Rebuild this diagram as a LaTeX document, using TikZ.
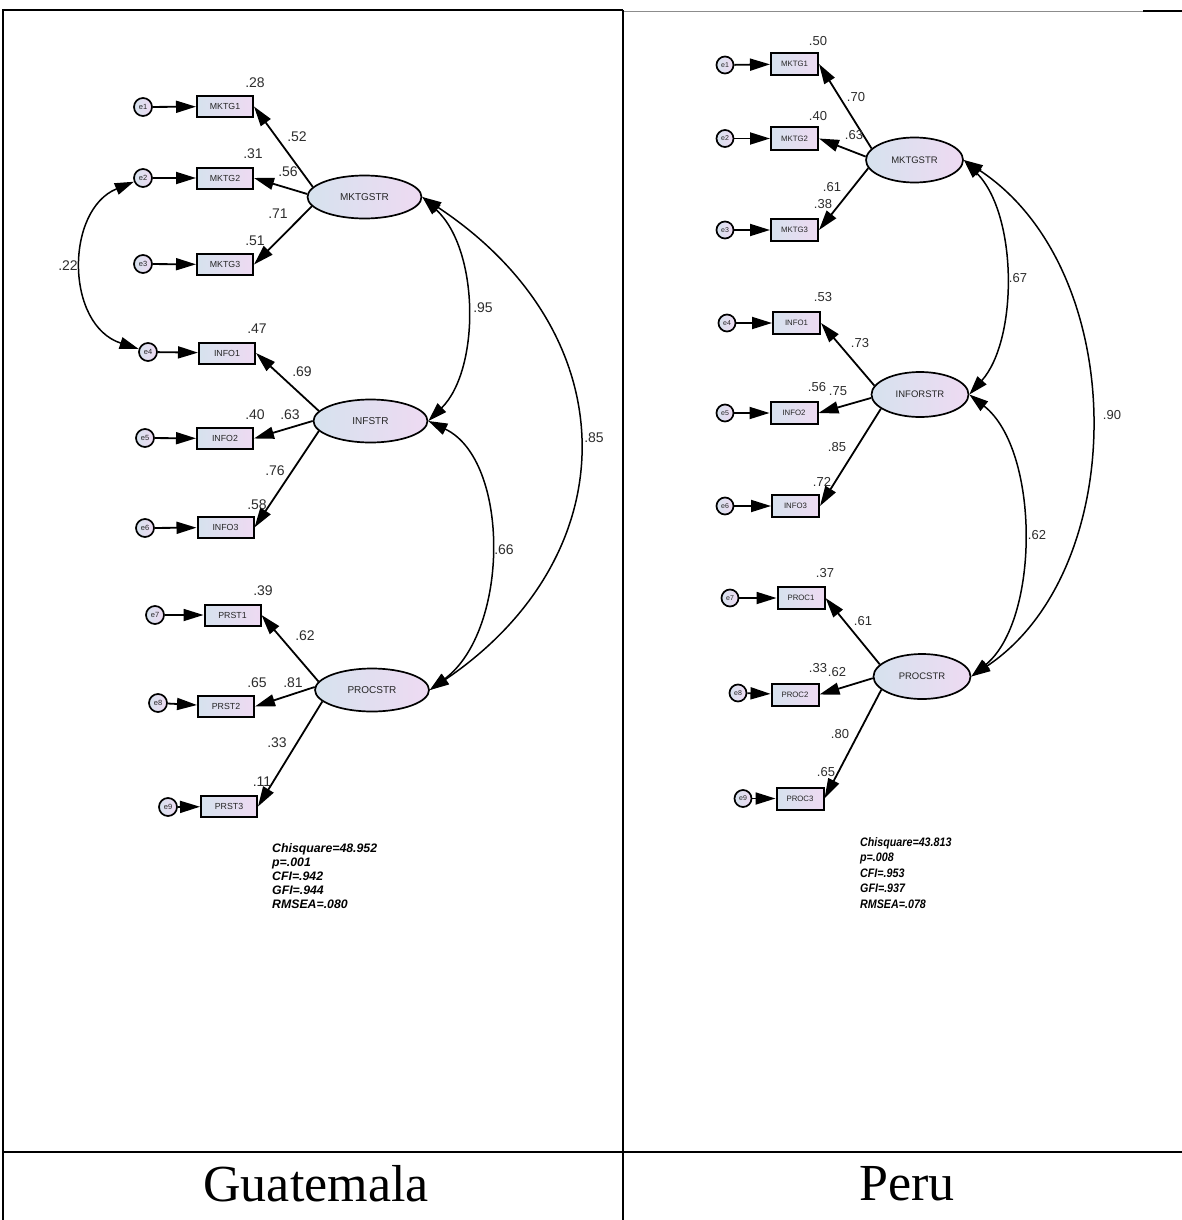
\documentclass[tikz,border=0pt]{standalone}
\usepackage{fontspec}
\usetikzlibrary{arrows.meta,shapes.geometric}
\newfontfamily\lsans{Liberation Sans}
\newfontfamily\lserif{Liberation Serif}
\definecolor{nodeL}{RGB}{214,226,238}
\definecolor{nodeR}{RGB}{238,218,242}
\definecolor{lblc}{RGB}{45,45,45}
\begin{document}
\begin{tikzpicture}[x=1pt,y=-1pt,
  obsL/.style={draw, rectangle, line width=2pt, inner sep=0, minimum width=56, minimum height=21, left color=nodeL, right color=nodeR, text=black!85, font=\lsans\fontsize{8.8}{8.8}\selectfont},
  obsR/.style={obsL, minimum width=47, minimum height=22, font=\lsans\fontsize{7.8}{7.8}\selectfont},
  latL/.style={draw, ellipse, line width=1.7pt, inner sep=0, minimum width=114, minimum height=43, left color=nodeL, right color=nodeR, text=black!85, font=\lsans\fontsize{10}{10}\selectfont},
  latR/.style={latL, minimum width=97, minimum height=45, font=\lsans\fontsize{9.5}{9.5}\selectfont},
  errL/.style={draw, circle, line width=1.7pt, inner sep=0, minimum size=18, left color=nodeL, right color=nodeR, text=black!85, font=\lsans\fontsize{7.5}{7.5}\selectfont},
  errR/.style={errL, minimum size=17, font=\lsans\fontsize{7}{7}\selectfont},
  lbl/.style={inner sep=0, text=lblc, font=\lsans\fontsize{14}{14}\selectfont},
  lblR/.style={inner sep=0, text=lblc, font=\lsans\fontsize{13}{13}\selectfont},
  arr/.style={-{Triangle[length=20pt,width=12pt]}, line width=1.8pt},
  biarr/.style={{Triangle[length=19pt,width=12pt]}-{Triangle[length=19pt,width=12pt]}, line width=1.5pt},
  stat/.style={inner sep=0, anchor=north west, align=left, text=black}
]
\useasboundingbox (0,0) rectangle (1182,1220);
\fill[white] (0,0) rectangle (1182,1220);
% table
\draw[line width=1.6pt] (3,1220) -- (3,10) -- (623,10);
\draw[line width=0.8pt, black!45] (623,11) -- (1143,11);
\draw[line width=1.6pt] (1143,11) -- (1182,11);
\draw[line width=1.4pt] (623,10) -- (623,1220);
\draw[line width=1.4pt] (3,1152) -- (1182,1152);
\node[inner sep=0, font=\lserif\fontsize{52}{52}\selectfont] (guat) at (316,1184) {Guatemala};
\node[inner sep=0, font=\lserif\fontsize{52}{52}\selectfont] (peru) at (907,1184) {Peru};

% ---------------- Left: Guatemala ----------------
\node[latL] (MKL) at (364.5,197) {MKTGSTR};
\node[latL] (INL) at (370.5,421) {INFSTR};
\node[latL] (PRL) at (372,690) {PROCSTR};

\node[obsL] (lm1) at (225,106.5) {MKTG1};
\node[obsL] (lm2) at (225,178) {MKTG2};
\node[obsL] (lm3) at (225,264.5) {MKTG3};
\node[obsL] (li1) at (227,353) {INFO1};
\node[obsL] (li2) at (225,438.5) {INFO2};
\node[obsL] (li3) at (225.5,527.5) {INFO3};
\node[obsL] (lp1) at (232.5,615) {PRST1};
\node[obsL] (lp2) at (226,706.5) {PRST2};
\node[obsL] (lp3) at (229,806.5) {PRST3};

\node[errL] (le1) at (143,107) {e1};
\node[errL] (le2) at (143,178) {e2};
\node[errL] (le3) at (143,264) {e3};
\node[errL] (le4) at (148,352) {e4};
\node[errL] (le5) at (145,438) {e5};
\node[errL] (le6) at (145,528) {e6};
\node[errL] (le7) at (155,615) {e7};
\node[errL] (le8) at (158,703) {e8};
\node[errL] (le9) at (168,807) {e9};

\foreach \a/\b in {le1/lm1,le2/lm2,le3/lm3,le4/li1,le5/li2,le6/li3,le7/lp1,le8/lp2,le9/lp3}
  \draw[arr] (\a) -- (\b);

\draw[arr] (MKL.169) -- (lm1.east);
\draw[arr] (MKL.177) -- (lm2.east);
\draw[arr] (MKL.190) -- (lm3.east);
\draw[arr] (INL.169) -- (li1.east);
\draw[arr] (INL.180) -- (li2.east);
\draw[arr] (INL.191) -- (li3.east);
\draw[arr] (PRL.171) -- (lp1.east);
\draw[arr] (PRL.177) -- (lp2.east);
\draw[arr] (PRL.193) -- (lp3.east);

\draw[biarr] (le2) .. controls (65,210) and (65,325) .. (le4);
\draw[biarr] (MKL.east) .. controls (480,250) and (480,370) .. (INL.east);
\draw[biarr] (MKL.east) .. controls (629,334) and (629,555) .. (PRL.east);
\draw[biarr] (INL.east) .. controls (510,460) and (510,630) .. (PRL.east);

\node[lbl] (l28) at (255,83) {.28};
\node[lbl] (l52) at (297,137) {.52};
\node[lbl] (l31) at (253,154) {.31};
\node[lbl] (l56) at (288,172) {.56};
\node[lbl] (l71) at (278,214) {.71};
\node[lbl] (l51) at (255,241) {.51};
\node[lbl] (l47) at (257,329) {.47};
\node[lbl] (l69) at (302,372) {.69};
\node[lbl] (l40) at (255,415) {.40};
\node[lbl] (l63) at (290,415) {.63};
\node[lbl] (l76) at (275,471) {.76};
\node[lbl] (l58) at (257,505) {.58};
\node[lbl] (l39) at (263,591) {.39};
\node[lbl] (l62) at (305,636) {.62};
\node[lbl] (l65) at (257,683) {.65};
\node[lbl] (l81) at (293,683) {.81};
\node[lbl] (l33) at (277,743) {.33};
\node[lbl] (l11) at (262,782) {.11};
\node[lbl] (l22) at (68,266) {.22};
\node[lbl] (l95) at (483,308) {.95};
\node[lbl] (l85) at (594,438) {.85};
\node[lbl] (l66) at (504,550) {.66};

\node[stat, font=\lsans\bfseries\itshape\fontsize{12.3}{14.2}\selectfont] (lstat) at (272,843)
  {Chisquare=48.952\\p=.001\\CFI=.942\\GFI=.944\\RMSEA=.080};

% ---------------- Right: Peru ----------------
\node[latR] (MKR) at (914.5,160) {MKTGSTR};
\node[latR] (INR) at (920,394.5) {INFORSTR};
\node[latR] (PRR) at (922,676.5) {PROCSTR};

\node[obsR] (rm1) at (794.5,64) {MKTG1};
\node[obsR] (rm2) at (794.5,138.5) {MKTG2};
\node[obsR] (rm3) at (794.5,230) {MKTG3};
\node[obsR] (ri1) at (796.5,323) {INFO1};
\node[obsR] (ri2) at (794,413) {INFO2};
\node[obsR] (ri3) at (795.5,506) {INFO3};
\node[obsR] (rp1) at (801,598) {PROC1};
\node[obsR] (rp2) at (795,694.5) {PROC2};
\node[obsR] (rp3) at (800,798.5) {PROC3};

\node[errR] (re1) at (725,65) {e1};
\node[errR] (re2) at (725,138.5) {e2};
\node[errR] (re3) at (725,230) {e3};
\node[errR] (re4) at (727,323) {e4};
\node[errR] (re5) at (725,413) {e5};
\node[errR] (re6) at (725,506) {e6};
\node[errR] (re7) at (730,598) {e7};
\node[errR] (re8) at (738,693) {e8};
\node[errR] (re9) at (743,798.5) {e9};

\foreach \a/\b in {re1/rm1,re2/rm2,re3/rm3,re4/ri1,re5/ri2,re6/ri3,re7/rp1,re8/rp2,re9/rp3}
  \draw[arr] (\a) -- (\b);

\draw[arr] (MKR.165) -- (rm1.east);
\draw[arr] (MKR.176) -- (rm2.east);
\draw[arr] (MKR.190) -- (rm3.east);
\draw[arr] (INR.169) -- (ri1.east);
\draw[arr] (INR.184) -- (ri2.east);
\draw[arr] (INR.200) -- (ri3.east);
\draw[arr] (PRR.164) -- (rp1.east);
\draw[arr] (PRR.182) -- (rp2.east);
\draw[arr] (PRR.198) -- (rp3.east);

\draw[biarr] (MKR.east) .. controls (1018,215) and (1018,340) .. (INR.east);
\draw[biarr] (MKR.east) .. controls (1131,270) and (1131,570) .. (PRR.east);
\draw[biarr] (INR.east) .. controls (1040,450) and (1040,620) .. (PRR.east);

\node[lblR] (r50) at (818,41) {.50};
\node[lblR] (r70) at (856,97) {.70};
\node[lblR] (r40) at (818,116) {.40};
\node[lblR] (r63) at (854,135) {.63};
\node[lblR] (r61) at (832,187) {.61};
\node[lblR] (r38) at (823,204) {.38};
\node[lblR] (r53) at (823,297) {.53};
\node[lblR] (r73) at (860,343) {.73};
\node[lblR] (r56) at (817,387) {.56};
\node[lblR] (r75) at (838,391) {.75};
\node[lblR] (r85) at (837,447) {.85};
\node[lblR] (r72) at (822,482) {.72};
\node[lblR] (r37) at (825,573) {.37};
\node[lblR] (r61b) at (863,621) {.61};
\node[lblR] (r33) at (818,668) {.33};
\node[lblR] (r62) at (837,672) {.62};
\node[lblR] (r80) at (840,734) {.80};
\node[lblR] (r65) at (826,772) {.65};
\node[lblR] (r67) at (1018,278) {.67};
\node[lblR] (r90) at (1112,415) {.90};
\node[lblR] (r62b) at (1037,535) {.62};

\node[stat, xscale=0.87, transform shape, font=\lsans\bfseries\itshape\fontsize{12.3}{15.5}\selectfont] (rstat) at (860,837)
  {Chisquare=43.813\\p=.008\\CFI=.953\\GFI=.937\\RMSEA=.078};
\end{tikzpicture}
\end{document}
